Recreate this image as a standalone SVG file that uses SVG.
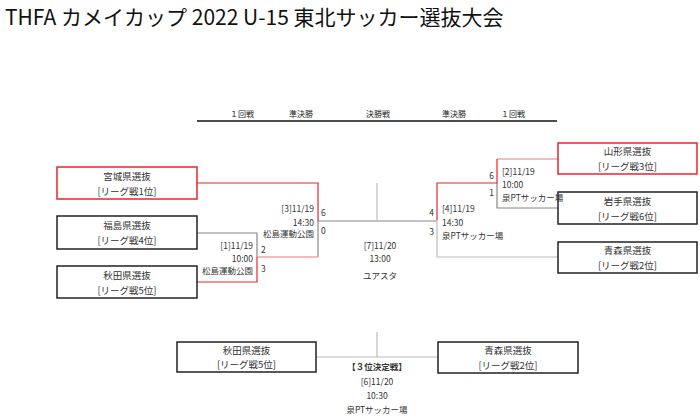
<svg xmlns="http://www.w3.org/2000/svg" width="700" height="417" viewBox="0 0 700 417">
<style>
text{font-family:"Noto Sans CJK JP","Noto Sans",sans-serif;fill:#333}
.t{font-size:21px;fill:#111}
.h{font-size:8px;text-anchor:middle;fill:#222}
.b{font-size:9.5px;text-anchor:middle}
.s{font-size:8.5px}
.m{text-anchor:middle}
.e{text-anchor:end}
.box{fill:#fff;stroke:#222;stroke-width:1.5}
.rbox{fill:#fff;stroke:#e8262a;stroke-width:1.5}
.ln{fill:none;stroke-width:1.2}
.red{stroke:#e8262a}
.pink{stroke:#f07878}
.gray{stroke:#888}
.lg{stroke:#bbb}
</style>
<rect width="700" height="417" fill="#fff"/>
<text class="t" x="5" y="25">THFA カメイカップ 2022 U-15 東北サッカー選抜大会</text>
<g id="header">
<line x1="197" y1="121" x2="557" y2="121" stroke="#111" stroke-width="1.5"/>
<text class="h" x="242" y="117">１回戦</text>
<text class="h" x="301" y="117">準決勝</text>
<text class="h" x="378" y="117">決勝戦</text>
<text class="h" x="454" y="117">準決勝</text>
<text class="h" x="513" y="117">１回戦</text>
</g>
<g id="connectors">
<path class="ln gray" d="M197 233H257V257"/>
<path class="ln gray" d="M318 221V257"/>
<path class="ln gray" d="M318 221H437"/>
<path class="ln lg" d="M377 183V221"/>
<path class="ln gray" d="M497 183V208H558"/>
<path class="ln lg" d="M437 220V257H558"/>
<path class="ln lg" d="M316 357H438M377 332V357"/>
<path class="ln red" d="M197 183H318V221"/>
<path class="ln red" d="M197 282H257V257"/>
<path class="ln pink" d="M257 257H318"/>
<path class="ln pink" d="M558 159H497"/>
<path class="ln red" d="M497 159V183H437V220"/>
</g>
<g id="miyagi"><rect class="rbox" x="57" y="167" width="140" height="32"/><text class="b" x="127" y="179.5">宮城県選抜</text><text class="b" x="127" y="194.5">[リーグ戦1位]</text></g>
<g id="fukushima"><rect class="box" x="57" y="216" width="140" height="33"/><text class="b" x="127" y="229">福島県選抜</text><text class="b" x="127" y="244">[リーグ戦4位]</text></g>
<g id="akita"><rect class="box" x="57" y="266" width="140" height="32"/><text class="b" x="127" y="278.5">秋田県選抜</text><text class="b" x="127" y="293.5">[リーグ戦5位]</text></g>
<g id="yamagata"><rect class="rbox" x="558" y="143" width="139" height="31"/><text class="b" x="627.5" y="155">山形県選抜</text><text class="b" x="627.5" y="170">[リーグ戦3位]</text></g>
<g id="iwate"><rect class="box" x="558" y="192" width="139" height="32"/><text class="b" x="627.5" y="204.5">岩手県選抜</text><text class="b" x="627.5" y="219.5">[リーグ戦6位]</text></g>
<g id="aomori"><rect class="box" x="558" y="242" width="139" height="31"/><text class="b" x="627.5" y="254">青森県選抜</text><text class="b" x="627.5" y="269">[リーグ戦2位]</text></g>
<g id="akita3"><rect class="box" x="177" y="342" width="139" height="30"/><text class="b" x="246.5" y="353.5">秋田県選抜</text><text class="b" x="246.5" y="368">[リーグ戦5位]</text></g>
<g id="aomori3"><rect class="box" x="438" y="342" width="140" height="31"/><text class="b" x="508" y="354">青森県選抜</text><text class="b" x="508" y="369">[リーグ戦2位]</text></g>
<g id="match1"><text class="s e" x="253" y="249">[1]11/19</text><text class="s e" x="253" y="262">10:00</text><text class="s e" x="253" y="273.5">松島運動公園</text><text class="s" x="261" y="253">2</text><text class="s" x="261" y="272">3</text></g>
<g id="match3"><text class="s e" x="314" y="212">[3]11/19</text><text class="s e" x="314" y="226">14:30</text><text class="s e" x="314" y="236.5">松島運動公園</text><text class="s" x="321" y="216">6</text><text class="s" x="321" y="234">0</text></g>
<g id="match2"><text class="s" x="502" y="175">[2]11/19</text><text class="s" x="502" y="188">10:00</text><text class="s" x="502" y="201">泉PTサッカー場</text><text class="s e" x="494" y="179">6</text><text class="s e" x="494" y="196">1</text></g>
<g id="match4"><text class="s" x="442" y="212">[4]11/19</text><text class="s" x="442" y="226">14:30</text><text class="s" x="442" y="239">泉PTサッカー場</text><text class="s e" x="434" y="216">4</text><text class="s e" x="434" y="235">3</text></g>
<g id="match7"><text class="s m" x="380" y="249">[7]11/20</text><text class="s m" x="380" y="262">13:00</text><text class="s m" x="380" y="279">ユアスタ</text></g>
<g id="match6"><text class="s m" x="377" y="370" font-weight="bold">【３位決定戦】</text><text class="s m" x="377" y="385">[6]11/20</text><text class="s m" x="377" y="399">10:30</text><text class="s m" x="377" y="413">泉PTサッカー場</text></g>
</svg>
